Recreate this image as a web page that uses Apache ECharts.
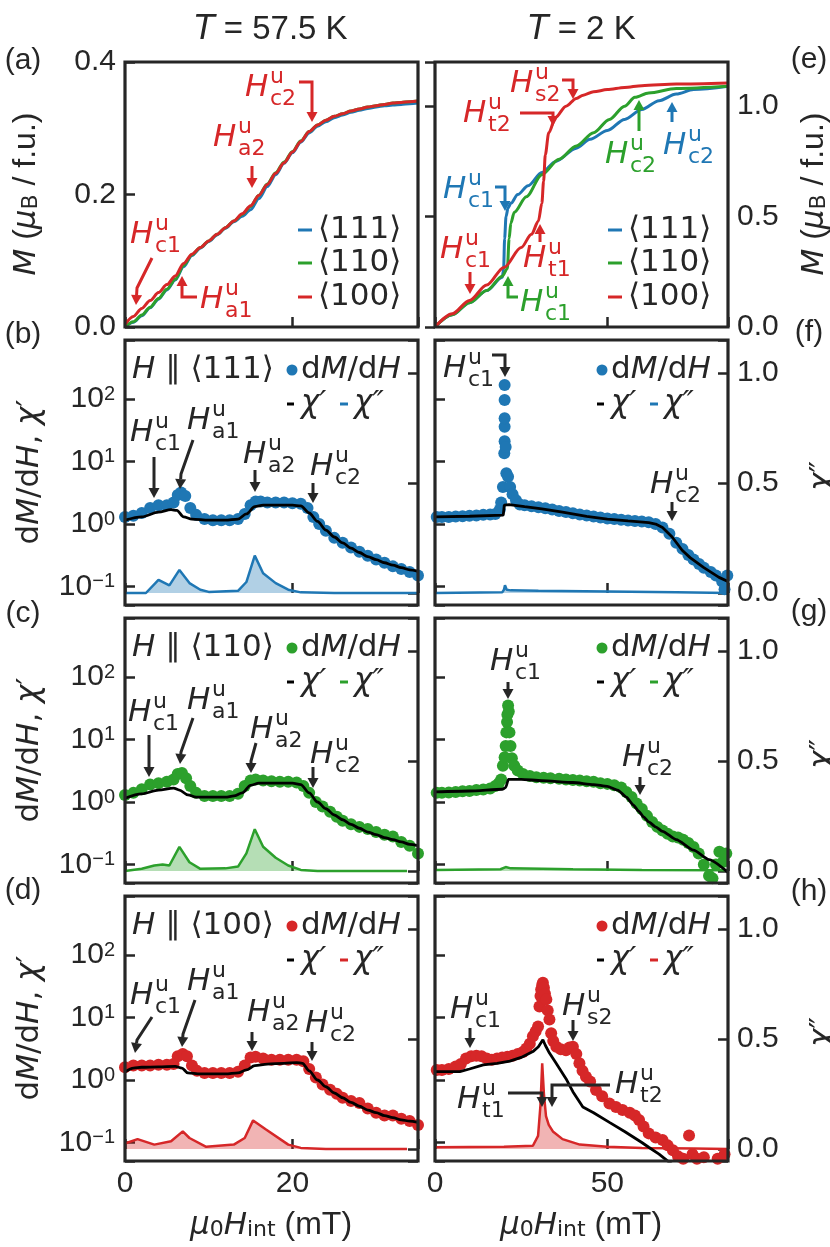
<!DOCTYPE html>
<html>
<head>
<meta charset="utf-8">
<script src="https://cdn.jsdelivr.net/npm/echarts@6.0.0/dist/echarts.min.js"></script>
<style>
html, body { margin: 0; padding: 0; background: #fff; }
#chart { width: 830px; height: 1247px; }
</style>
</head>
<body>
<div id="chart"></div>
<script>
// ---- (a) M(H), T = 57.5 K
var aH = [0,1,2,3,4,5,6,7,8,9,10,11,12,13,14,15,16,17,18,19,20,21,22,23,24,25,26,27,28,29,30,31,32,33,34,35];
var aM100 = [0.004,0.016,0.028,0.040,0.052,0.064,0.077,0.096,0.110,0.120,0.130,0.140,0.150,0.160,0.171,0.183,0.199,0.215,0.232,0.248,0.264,0.280,0.295,0.305,0.312,0.318,0.322,0.326,0.329,0.332,0.334,0.336,0.338,0.339,0.340,0.341];
var aM110 = [0.000,0.008,0.018,0.030,0.043,0.057,0.072,0.093,0.109,0.120,0.130,0.140,0.150,0.160,0.170,0.182,0.199,0.216,0.233,0.249,0.265,0.281,0.295,0.305,0.312,0.318,0.322,0.326,0.329,0.332,0.334,0.336,0.338,0.339,0.340,0.341];
var aM111 = [0.000,0.007,0.017,0.029,0.042,0.056,0.071,0.091,0.108,0.119,0.129,0.139,0.149,0.159,0.167,0.177,0.194,0.212,0.230,0.247,0.263,0.279,0.293,0.303,0.310,0.316,0.320,0.324,0.327,0.330,0.332,0.334,0.335,0.336,0.337,0.338];

// ---- (e) M(H), T = 2 K
var eH100 = [0,5,10,15,20,25,28,30,31,31.5,32,33,35,38,41,43,46,50,55,60,70,85];
var eM100 = [0,0.06,0.12,0.19,0.27,0.36,0.42,0.48,0.56,0.66,0.78,0.88,0.95,1.0,1.035,1.05,1.065,1.075,1.085,1.093,1.1,1.105];
var eH111 = [0,5,10,15,19.5,19.9,20.2,20.6,21.2,22,24,27,31,35,41,45,50,55,60,65,70,75,85];
var eM111 = [0,0.055,0.11,0.165,0.225,0.26,0.40,0.50,0.54,0.56,0.6,0.64,0.70,0.75,0.81,0.85,0.89,0.94,0.985,1.025,1.055,1.075,1.09];
var eH110 = [0,5,10,15,19.5,21,21.5,22,23,26.5,31,36,41,46,50.6,55,58,62,70,85];
var eM110 = [0,0.055,0.11,0.165,0.23,0.265,0.40,0.47,0.52,0.59,0.69,0.76,0.82,0.88,0.94,1.0,1.04,1.06,1.08,1.09];

// ---- (b) <111>, 57.5 K
var bDotH = [0,1,2,3,4,5,5.8,6.3,6.7,7.2,7.8,8.5,9.5,10.5,11.5,12.5,13.5,14.3,15,15.6,16.2,17,18,19,20,21,21.8,22.5,23.2,24,25,26,27,28,29,30,31,32,33,34,35];
var bDotV = [1.3,1.35,1.5,1.8,2.0,2.0,2.2,2.9,3.2,2.8,1.8,1.4,1.2,1.15,1.15,1.15,1.2,1.45,2.0,2.3,2.3,2.2,2.2,2.2,2.15,2.1,1.8,1.3,1.0,0.78,0.6,0.5,0.42,0.36,0.31,0.27,0.24,0.21,0.19,0.17,0.15];
var bChi1H = [0,2,4,5.5,6.2,7,8,10,12,13.5,14.5,15.5,16.5,18,20,21,22,23,24,25,26,27,28,29,30,31,32,33,34,35];
var bChi1V = [1.15,1.3,1.55,1.7,1.65,1.3,1.2,1.15,1.15,1.2,1.45,1.9,2.0,2.0,2.0,1.95,1.5,1.1,0.8,0.62,0.5,0.41,0.35,0.3,0.27,0.24,0.22,0.2,0.185,0.175];
var bChi2H = [0,2.5,4,5.3,6.5,7.7,9,10,13.5,14.5,15.5,16.5,18,19.5,21,25,35];
var bChi2V = [0,0,0.06,0.035,0.105,0.045,0.015,0.005,0.01,0.05,0.17,0.09,0.045,0.015,0.003,0,0];

// ---- (c) <110>, 57.5 K
var cDotH = [0,1,2,3,4,5,5.8,6.3,6.8,7.3,7.8,8.5,9.5,10.5,11.5,12.5,13.5,14.3,15,15.6,16.5,17.5,18.5,19.5,20.5,21.3,22,22.8,23.6,24.5,25.3,26,27,28,29,30,31,32,33,34,35];
var cDotV = [1.3,1.4,1.6,1.9,2.0,2.1,2.3,2.8,2.9,2.4,1.8,1.4,1.25,1.25,1.25,1.25,1.35,1.8,2.2,2.3,2.2,2.15,2.1,2.1,2.05,1.8,1.4,1.0,0.85,0.7,0.58,0.5,0.44,0.4,0.37,0.33,0.3,0.28,0.23,0.2,0.15];
var cChi1H = [0,2,4,5.8,6.5,7.5,8.5,10,12,13,14,15,16,18,20,21,22,23,24,25,26,27,28,29,30,31,32,33,34,35];
var cChi1V = [1.15,1.35,1.55,1.67,1.55,1.3,1.2,1.2,1.2,1.25,1.4,1.85,2.0,2.0,2.0,1.9,1.4,1.0,0.78,0.62,0.52,0.44,0.38,0.33,0.3,0.27,0.25,0.23,0.21,0.2];
var cChi2H = [0,2,3.5,4.5,5.3,6.5,7.7,9,12,13.5,14.5,15.5,16.5,18,19.5,21,23,33.7];
var cChi2V = [0,0.01,0.025,0.03,0.025,0.11,0.04,0.01,0.012,0.02,0.08,0.19,0.11,0.06,0.025,0.005,0,0];

// ---- (d) <100>, 57.5 K
var dDotH = [0,1,2,3,4,5,5.8,6.3,6.9,7.4,8,8.6,9.5,10.5,11.5,12.5,13.5,14.3,15,15.6,16.5,17.5,18.5,19.5,20.5,21.3,22,22.8,23.6,24.5,25.3,26,27,28,29,30,31,32,33,34,35];
var dDotV = [1.6,1.7,1.7,1.7,1.75,1.75,1.8,2.4,2.6,2.4,1.7,1.4,1.3,1.3,1.3,1.3,1.35,1.7,2.3,2.35,2.2,2.1,2.1,2.1,2.1,2.0,1.5,1.1,0.85,0.7,0.6,0.52,0.46,0.43,0.35,0.3,0.27,0.27,0.24,0.22,0.19];
var dChi1H = [0,1,2,4,6,6.8,7.5,9,12,13.5,14.5,15.5,17,19,20.5,21.2,22,23,24,25,26,27,28,29,30,31,32,33,34,35];
var dChi1V = [1.35,1.55,1.6,1.62,1.65,1.55,1.3,1.25,1.25,1.3,1.45,1.7,1.8,1.85,1.9,1.85,1.4,1.0,0.78,0.62,0.52,0.44,0.38,0.33,0.3,0.27,0.25,0.23,0.22,0.21];
var dChi2H = [0,1.5,3.5,5.5,6.9,7.7,9.7,13,14.3,15.3,16.8,19.5,21,24,33.7];
var dChi2V = [0.025,0.045,0.02,0.035,0.08,0.05,0.01,0.02,0.05,0.13,0.09,0.02,0.005,0,0];

// ---- (f) <111>, 2 K
var fDotH = [0.5,2,4,6,8,10,12,14,16,17.5,18.8,19.2,19.7,20.1,20.2,20.2,20.2,20.2,20.2,20.5,20.7,21.2,21.8,22.5,23.5,24.6,26,28,30,32,34,36,38,40,42,44,46,48,50,52,54,56,58,60,62,64,66,68,70,71.8,73.5,75,76.6,78,80,81.5,83.3,84,84.8];
var fDotV = [1.3,1.3,1.3,1.32,1.33,1.35,1.37,1.4,1.42,1.45,1.7,2.2,3.9,13.6,21,36,49,96,167,17,6.5,5.7,3.9,3.0,2.4,2.05,2.0,1.92,1.85,1.78,1.7,1.62,1.55,1.48,1.42,1.37,1.32,1.27,1.23,1.2,1.17,1.14,1.12,1.1,1.07,1.0,0.88,0.7,0.5,0.4,0.32,0.27,0.23,0.2,0.17,0.15,0.12,0.09,0.15];
var fChi1H = [0,10,19.8,20.1,21.5,26,31,37,44,50,56,62,64,66,68.8,71.7,74,78,82.4,85];
var fChi1V = [1.3,1.33,1.39,2.0,2.05,1.9,1.75,1.55,1.33,1.2,1.12,1.05,1.0,0.88,0.62,0.38,0.29,0.2,0.14,0.12];
var fChi2H = [0,19.5,20,20.3,20.8,22,30,50,70,85];
var fChi2V = [0,0.003,0.015,0.035,0.015,0.012,0.01,0.007,0.003,0];

// ---- (g) <110>, 2 K
var gDotH = [0.5,2,4,6,8,10,12,14,16,17.5,18.5,19.2,19.7,20.2,20.5,20.7,20.9,21.0,21.2,21.4,21.6,21.9,22.3,23,24,25.5,27.5,29.4,31.5,33.5,36,38,40,42,44,46,48,50,52,54,55.5,57,58.5,60,61.5,63,64.5,66,67.5,69,70.5,72,73.5,75,76.5,78,79.5,80.5,81.5,82.5,83.5,84.5];
var gDotV = [1.4,1.4,1.42,1.45,1.48,1.5,1.55,1.58,1.65,1.8,2.0,2.3,3.8,5.2,7.9,13,19,25,35,28,13,7.9,5,3.8,3.2,2.8,2.6,2.5,2.45,2.4,2.35,2.3,2.25,2.2,2.15,2.1,2.0,1.95,1.85,1.7,1.45,1.2,0.95,0.77,0.6,0.48,0.4,0.35,0.31,0.28,0.27,0.25,0.22,0.19,0.15,0.1,0.066,0.06,0.1,0.16,0.11,0.15];
var gChi1H = [0,10,19.5,20.5,21.3,25,31,40,46,50,53,55.5,57.5,59,60.5,62,64,66,70,75,79.5,85];
var gChi1V = [1.45,1.5,1.6,1.7,2.3,2.3,2.2,2.05,1.9,1.78,1.55,1.2,0.9,0.72,0.58,0.48,0.4,0.34,0.25,0.17,0.12,0.075];
var gChi2H = [0,19,20.5,22,40,60,85];
var gChi2V = [0.005,0.008,0.018,0.012,0.008,0.005,0.003];

// ---- (h) <100>, 2 K
var hDotH = [0.5,2,4,6,7.5,9,10.5,12,13.5,15,16.5,18,19.5,21,22.5,24,25.5,26.5,27.5,28.4,29.2,29.9,30.3,30.6,30.8,31.1,31.3,31.6,31.9,32.3,32.7,33.2,33.7,34.3,35.2,36.5,38,39,40,41,41.9,42.8,43.8,45,46.7,48.5,50.6,52.5,54.4,56.5,58,59.2,60.5,62,64,66,67.5,69,70.5,72,73.7,74.7,76,78,80,82,84];
var hDotV = [1.45,1.45,1.5,1.65,1.8,2.2,2.4,2.45,2.4,2.2,2.1,2.2,2.3,2.35,2.45,2.6,2.8,3.2,3.8,5,6,7.2,15,22,28,33,36,30,24,19.5,13,9.3,5.6,4.2,3.4,3.1,3.0,3.3,3.4,2.6,1.85,1.4,1.13,0.95,0.69,0.55,0.42,0.37,0.33,0.3,0.27,0.23,0.18,0.14,0.12,0.11,0.09,0.075,0.06,0.055,0.13,0.065,0.055,0.058,0.05,0.055,0.065];
var hChi1H = [0,7.2,10,14,18,21.7,25,28.4,30,31.3,32,33.2,35,38,40,42.9,46,50.6,55,60,62,65,68,70];
var hChi1V = [1.36,1.36,1.5,1.75,1.85,2.0,2.3,2.85,3.4,4.4,3.6,2.7,1.9,1.05,0.65,0.37,0.3,0.21,0.15,0.1,0.084,0.065,0.048,0.04];
var hChi2H = [0,20,28.4,29.9,30.6,31.1,31.6,32.2,33,34.2,37,42,50,60,75,85];
var hChi2V = [0.008,0.01,0.015,0.06,0.2,0.39,0.25,0.15,0.11,0.08,0.045,0.02,0.01,0.005,0.002,0];

// axis tick values
var xTicksLeft = 20, xTicksRight = 50;
var dirLabels = ['\u27E8111\u27E9', '\u27E8110\u27E9', '\u27E8100\u27E9'];

var INK = '#262626';
var BLUE = '#1f77b4', GREEN = '#2ca02c', RED = '#d62728';
var MATH = '"DejaVu Sans"';
var SANS = '"Liberation Sans", Arial';

var LEFT = [125, 435], W = 293, H = 265;
var TOPS = [62, 340, 618, 896];

function pairs(h, v) {
  return h.map(function (x, i) { return [x, v[i]]; });
}
function near(v, step) {
  return Math.abs(v / step - Math.round(v / step)) < 1e-6;
}

var chart = echarts.init(document.getElementById('chart'));

var grids = [], xAxes = [], yAxes = [];
var tickStyle = {inside: true, length: 10, lineStyle: {color: INK, width: 2.5}};
var labelBase = {fontFamily: SANS, fontSize: 30, color: INK};

TOPS.forEach(function (top, row) {
  [0, 1].forEach(function (col) {
    grids.push({left: LEFT[col], top: top, width: W, height: H});
    var step = col ? xTicksRight : xTicksLeft;
    xAxes.push({
      gridIndex: row * 2 + col, type: 'value', min: 0, max: col ? 85 : 35, interval: step,
      axisLine: {show: false}, splitLine: {show: false}, axisTick: tickStyle,
      axisLabel: echarts.util.extend({
        show: row === 3, margin: 8,
        formatter: function (v) { return near(v, step) ? String(v) : ''; }
      }, labelBase)
    });
  });
});

function logFmt(v) {
  var l = Math.log10(v), e = Math.round(l);
  if (Math.abs(l - e) > 1e-6) return '';
  return '{b|10}{s|' + (e < 0 ? '\u2212' + (-e) : e) + '}';
}
var logRich = {
  b: {fontFamily: SANS, fontSize: 30, color: INK, lineHeight: 30, verticalAlign: 'bottom'},
  s: {fontFamily: SANS, fontSize: 20, color: INK, lineHeight: 20, verticalAlign: 'top', padding: [0, 0, 16, 0]}
};
function halfFmt(v) { return near(v, 0.5) ? v.toFixed(1) : ''; }

// (a) left M axis, (e) right M axis
yAxes.push({
  gridIndex: 0, type: 'value', min: 0, max: 0.4, interval: 0.2, position: 'left',
  axisLine: {show: false}, splitLine: {show: false}, axisTick: tickStyle,
  axisLabel: echarts.util.extend({margin: 9, formatter: function (v) { return v.toFixed(1); }}, labelBase)
});
yAxes.push({
  gridIndex: 1, type: 'value', min: 0, max: 1.2, interval: 0.5, position: 'right',
  axisLine: {show: false}, splitLine: {show: false}, axisTick: tickStyle,
  axisLabel: echarts.util.extend({margin: 9, formatter: halfFmt}, labelBase)
});
for (var g = 2; g < 8; g++) {
  yAxes.push({
    gridIndex: g, type: 'log', logBase: 10, min: 0.0506, max: 879, position: 'left',
    axisLine: {show: false}, splitLine: {show: false}, axisTick: tickStyle,
    axisLabel: echarts.util.extend({show: g % 2 === 0, margin: 10, formatter: logFmt, rich: logRich}, labelBase)
  });
  yAxes.push({
    gridIndex: g, type: 'value', min: -0.0545, max: 1.15, splitNumber: 2, position: 'right',
    axisLine: {show: false}, splitLine: {show: false}, axisTick: tickStyle,
    axisLabel: echarts.util.extend({show: g % 2 === 1, margin: 9, formatter: halfFmt}, labelBase)
  });
}
function logIdx(g) { return 2 * (g - 1); }
function chiIdx(g) { return 2 * (g - 1) + 1; }

var series = [];
function mLine(grid, yi, h, v, color) {
  return {
    type: 'line', xAxisIndex: grid, yAxisIndex: yi, data: pairs(h, v),
    showSymbol: false, symbol: 'none', smooth: 0.3, smoothMonotone: 'x',
    lineStyle: {color: color, width: 3}, itemStyle: {color: color}, z: 3, silent: true
  };
}
series.push(mLine(0, 0, aH, aM111, BLUE), mLine(0, 0, aH, aM110, GREEN), mLine(0, 0, aH, aM100, RED));
series.push(mLine(1, 1, eH111, eM111, BLUE), mLine(1, 1, eH110, eM110, GREEN), mLine(1, 1, eH100, eM100, RED));

var panels = [
  {g: 2, color: BLUE, dots: pairs(bDotH, bDotV), chi1: pairs(bChi1H, bChi1V), chi2: pairs(bChi2H, bChi2V), smooth: 0.3},
  {g: 3, color: BLUE, dots: pairs(fDotH, fDotV), chi1: pairs(fChi1H, fChi1V), chi2: pairs(fChi2H, fChi2V), smooth: 0},
  {g: 4, color: GREEN, dots: pairs(cDotH, cDotV), chi1: pairs(cChi1H, cChi1V), chi2: pairs(cChi2H, cChi2V), smooth: 0.3},
  {g: 5, color: GREEN, dots: pairs(gDotH, gDotV), chi1: pairs(gChi1H, gChi1V), chi2: pairs(gChi2H, gChi2V), smooth: 0.2},
  {g: 6, color: RED, dots: pairs(dDotH, dDotV), chi1: pairs(dChi1H, dChi1V), chi2: pairs(dChi2H, dChi2V), smooth: 0.3},
  {g: 7, color: RED, dots: pairs(hDotH, hDotV), chi1: pairs(hChi1H, hChi1V), chi2: pairs(hChi2H, hChi2V), smooth: 0}
];
panels.forEach(function (p) {
  series.push({
    type: 'line', xAxisIndex: p.g, yAxisIndex: chiIdx(p.g), data: p.chi2,
    showSymbol: false, symbol: 'none', lineStyle: {color: p.color, width: 2.5},
    areaStyle: {color: p.color, opacity: 0.35}, z: 1, silent: true
  });
  series.push({
    type: 'scatter', xAxisIndex: p.g, yAxisIndex: logIdx(p.g), data: p.dots,
    symbolSize: 12, itemStyle: {color: p.color, opacity: 1}, z: 2, clip: true, silent: true
  });
  series.push({
    type: 'line', xAxisIndex: p.g, yAxisIndex: logIdx(p.g), data: p.chi1,
    showSymbol: false, symbol: 'none', smooth: p.smooth, smoothMonotone: 'x',
    lineStyle: {color: '#000', width: 2.8}, z: 3, clip: true, silent: true
  });
});

// ---------- graphic helpers
var els = [];
function txt(x, y, s, font, color, align, rot) {
  return {type: 'text', x: x, y: y, rotation: rot || 0, z: 60,
    style: {text: s, font: font, fill: color || INK, align: align || 'left', verticalAlign: 'middle'}};
}
function rtxt(x, y, s, rich, color, align, rot) {
  return {type: 'text', x: x, y: y, rotation: rot || 0, z: 60,
    style: {text: s, rich: rich, fill: color || INK, align: align || 'left', verticalAlign: 'middle', font: '31px ' + MATH}};
}
function seg(x1, y1, x2, y2, color, w) {
  return {type: 'line', z: 60, shape: {x1: x1, y1: y1, x2: x2, y2: y2}, style: {stroke: color, lineWidth: w || 3}};
}
function arrow(pts, color) {
  var n = pts.length, a = pts[n - 2], b = pts[n - 1];
  var dx = b[0] - a[0], dy = b[1] - a[1], L = Math.sqrt(dx * dx + dy * dy);
  var ux = dx / L, uy = dy / L, hl = 10, hw = 5.5;
  var base = [b[0] - ux * hl, b[1] - uy * hl];
  var line = pts.slice(0, n - 1).concat([base]);
  els.push({type: 'polyline', z: 60, shape: {points: line}, style: {stroke: color, lineWidth: 3, fill: 'none'}});
  els.push({type: 'polygon', z: 60, shape: {points: [b, [base[0] - uy * hw, base[1] + ux * hw], [base[0] + uy * hw, base[1] - ux * hw]]},
    style: {fill: color}});
}
function hAnn(x, y, sub, color, pts) {
  color = color || INK;
  els.push(txt(x, y + 2, 'H', 'italic 31px ' + MATH, color));
  els.push(txt(x + 25, y - 9, 'u', '22px ' + MATH, color));
  els.push(txt(x + 25, y + 13, sub, '22px ' + MATH, color));
  arrow(pts, color);
}

// frames
grids.forEach(function (gr) {
  els.push({type: 'rect', z: 55, shape: {x: gr.left, y: gr.top, width: W, height: H},
    style: {fill: 'none', stroke: INK, lineWidth: 3.2}});
});

// titles
var richTitle = {
  i: {fontFamily: MATH, fontStyle: 'italic', fontSize: 33},
  r: {fontFamily: SANS, fontSize: 33}
};
els.push(rtxt(271, 30, '{i|T}{r| = 57.5 K}', richTitle, INK, 'center'));
els.push(rtxt(582, 30, '{i|T}{r| = 2 K}', richTitle, INK, 'center'));

// panel letters
var letters = [['(a)', 23, 61], ['(b)', 23, 335], ['(c)', 23, 614], ['(d)', 23, 891],
  ['(e)', 809, 60], ['(f)', 809, 333], ['(g)', 809, 612], ['(h)', 809, 892]];
letters.forEach(function (l) { els.push(txt(l[1], l[2], l[0], '30px ' + SANS, INK, 'center')); });

// axis titles
var richAx = {
  i: {fontFamily: MATH, fontStyle: 'italic', fontSize: 31, lineHeight: 36, verticalAlign: 'bottom'},
  m: {fontFamily: MATH, fontSize: 31, lineHeight: 36, verticalAlign: 'bottom'},
  r: {fontFamily: SANS, fontSize: 32, lineHeight: 36, verticalAlign: 'bottom'},
  s: {fontFamily: MATH, fontSize: 22, lineHeight: 16, verticalAlign: 'bottom'}
};
var ROT = Math.PI / 2;
var mTitle = '{i|M}{r| (}{i|\u03BC}{s|B}{r| / f.u.)}';
els.push(rtxt(24, 194, mTitle, richAx, INK, 'center', ROT));
els.push(rtxt(812, 194, mTitle, richAx, INK, 'center', ROT));
[472, 750, 1028].forEach(function (cy) {
  els.push(rtxt(27, cy, '{m|d}{i|M}{m|/d}{i|H}{m|, }{i|\u03C7}{m|\u2032}', richAx, INK, 'center', ROT));
  els.push(rtxt(820, cy + 4, '{i|\u03C7}{m|\u2033}', richAx, INK, 'center', ROT));
});
[271, 581].forEach(function (cx) {
  els.push(rtxt(cx, 1223, '{i|\u03BC}{s|0}{i|H}{s|int}{r| (mT)}', richAx, INK, 'center'));
});

// (a)/(e) legends
[0, 1].forEach(function (col) {
  var right = LEFT[col] + W;
  [BLUE, GREEN, RED].forEach(function (c, k) {
    var y = [230, 263, 297][k];
    els.push(seg(right - 120, y, right - 106, y, c, 3));
    els.push(txt(right - 100, y, dirLabels[k], '31px ' + MATH, INK));
  });
});

// (b)-(h) legends
var richLeg = {
  i: {fontFamily: MATH, fontStyle: 'italic', fontSize: 31},
  m: {fontFamily: MATH, fontSize: 31}
};
panels.forEach(function (p, k) {
  var gr = grids[p.g], right = gr.left + W, y1 = gr.top + 30, y2 = gr.top + 64;
  els.push({type: 'circle', z: 60, shape: {cx: right - 126, cy: y1, r: 5.5}, style: {fill: p.color}});
  els.push(rtxt(right - 117, y1, '{m|d}{i|M}{m|/d}{i|H}', richLeg, INK));
  els.push(seg(right - 131, y2, right - 124, y2, '#000', 3));
  els.push(txt(right - 117, y2, '\u03C7\u2032', 'italic 31px ' + MATH, INK));
  els.push(seg(right - 78, y2, right - 70, y2, p.color, 3));
  els.push(txt(right - 64, y2, '\u03C7\u2033', 'italic 31px ' + MATH, INK));
  if (p.g % 2 === 0) {
    els.push(rtxt(gr.left + 7, y1, '{i|H}{m| \u2225 ' + dirLabels[Math.floor(k / 2)] + '}', richLeg, INK));
  }
});

// annotations (a)
hAnn(245, 86, 'c2', RED, [[299, 82], [312, 82], [312, 122]]);
hAnn(213, 136, 'a2', RED, [[252, 166], [252, 188]]);
hAnn(130, 233, 'c1', RED, [[152, 258], [137, 288], [136, 305]]);
hAnn(200, 298, 'a1', RED, [[197, 297], [182, 297], [182, 276]]);
// (e)
hAnn(510, 82, 's2', RED, [[562, 80], [573, 80], [573, 99]]);
hAnn(463, 112, 't2', RED, [[520, 113], [553, 113], [553, 126]]);
hAnn(443, 188, 'c1', BLUE, [[495, 187], [505, 187], [505, 211]]);
hAnn(440, 248, 'c1', RED, [[470, 272], [470, 294]]);
hAnn(523, 257, 't1', RED, [[540, 242], [540, 224]]);
hAnn(520, 301, 'c1', GREEN, [[518, 297], [508, 297], [508, 276]]);
hAnn(605, 153, 'c2', GREEN, [[639, 131], [639, 100]]);
hAnn(663, 144, 'c2', BLUE, [[672, 122], [672, 102]]);
// (b)
hAnn(130, 431, 'c1', INK, [[154, 457], [154, 498]]);
hAnn(187, 419, 'a1', INK, [[193, 440], [181, 474], [180, 489]]);
hAnn(243, 453, 'a2', INK, [[255, 470], [255, 492]]);
hAnn(310, 465, 'c2', INK, [[313, 483], [313, 503]]);
// (c)
hAnn(128, 711, 'c1', INK, [[149, 735], [149, 777]]);
hAnn(187, 699, 'a1', INK, [[193, 718], [181, 752], [180, 764]]);
hAnn(250, 728, 'a2', INK, [[256, 743], [251, 761], [251, 773]]);
hAnn(310, 753, 'c2', INK, [[313, 767], [313, 788]]);
// (d)
hAnn(130, 994, 'c1', INK, [[152, 1017], [137, 1040], [135, 1053]]);
hAnn(187, 980, 'a1', INK, [[195, 1000], [183, 1034], [182, 1047]]);
hAnn(247, 1011, 'a2', INK, [[252, 1032], [252, 1051]]);
hAnn(305, 1022, 'c2', INK, [[312, 1042], [312, 1061]]);
// (f)
hAnn(443, 367, 'c1', INK, [[492, 355], [505, 355], [505, 377]]);
hAnn(650, 483, 'c2', INK, [[672, 502], [672, 521]]);
// (g)
hAnn(490, 660, 'c1', INK, [[508, 682], [508, 699]]);
hAnn(622, 756, 'c2', INK, [[640, 777], [640, 795]]);
// (h)
hAnn(450, 1008, 'c1', INK, [[470, 1028], [470, 1048]]);
hAnn(562, 1005, 's2', INK, [[573, 1020], [573, 1041]]);
hAnn(457, 1098, 't1', INK, [[508, 1093], [542, 1093], [542, 1107]]);
hAnn(615, 1083, 't2', INK, [[610, 1085], [552, 1085], [552, 1107]]);

chart.setOption({
  animation: false,
  backgroundColor: '#fff',
  grid: grids,
  xAxis: xAxes,
  yAxis: yAxes,
  series: series,
  graphic: {elements: els}
});
</script>
</body>
</html>
